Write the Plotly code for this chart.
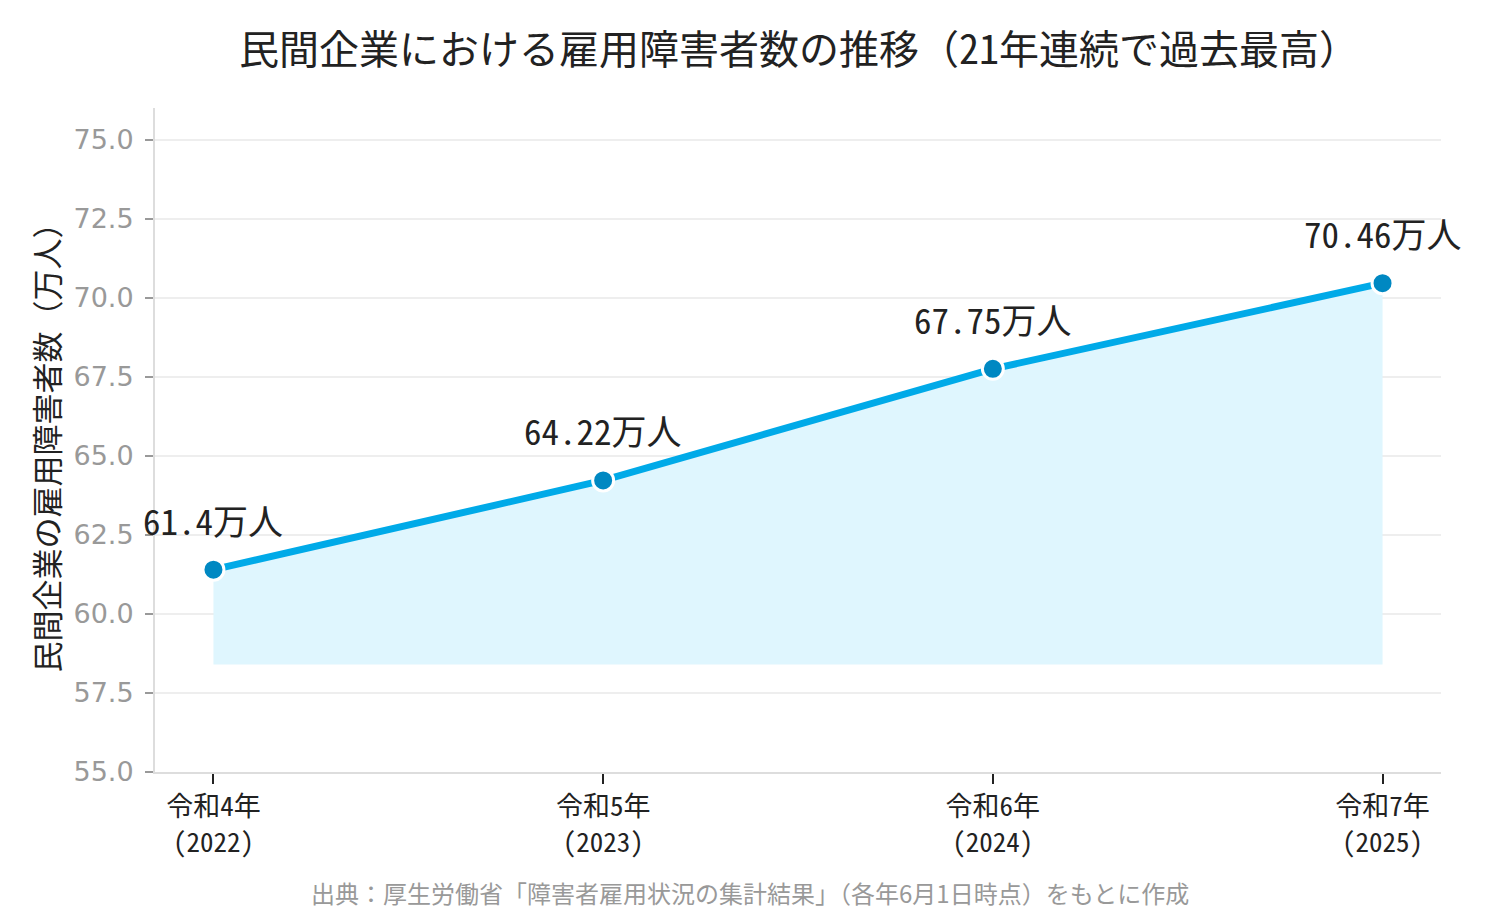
import plotly.graph_objects as go

# 民間企業の雇用障害者数（万人）
years = ['令和4年<br>(2022)', '令和5年<br>(2023)', '令和6年<br>(2024)', '令和7年<br>(2025)']
employees = [61.4, 64.22, 67.75, 70.46]
labels = ['61.4万人', '64.22万人', '67.75万人', '70.46万人']
fill_base = 58.4

MONO = "Noto Sans Mono CJK JP, Noto Sans CJK JP, sans-serif"


def main():
    fig = go.Figure()

    # invisible baseline so the area fill stops above the axis
    fig.add_trace(go.Scatter(
        x=years, y=[fill_base] * len(years),
        mode='lines', line=dict(width=0, color='rgba(0,0,0,0)'),
        hoverinfo='skip', showlegend=False,
    ))
    fig.add_trace(go.Scatter(
        x=years, y=employees,
        mode='lines+markers',
        fill='tonexty', fillcolor='#dff6fe',
        line=dict(color='#00aae8', width=7),
        marker=dict(size=21, color='#0088c2', line=dict(color='white', width=3)),
        showlegend=False,
    ))

    for x, y, t in zip(years, employees, labels):
        fig.add_annotation(
            x=x, y=y, text=t, showarrow=False,
            xanchor='center', yanchor='bottom', yshift=23,
            font=dict(family=MONO, size=35, color='#222222'),
        )

    fig.update_layout(
        width=1484, height=904,
        paper_bgcolor='white', plot_bgcolor='white',
        margin=dict(l=147, r=51, t=100, b=140),
        font=dict(family=MONO, color='#222222'),
        title=dict(
            text='民間企業における雇用障害者数の推移（21年連続で過去最高）',
            x=0.533, xanchor='center', y=0.953, yanchor='middle',
            font=dict(family=MONO, size=40, color='#222222'),
        ),
    )
    fig.update_xaxes(
        type='category', range=[-0.15, 3.15],
        showgrid=False, showline=True, linecolor='#dddddd', linewidth=2,
        ticks='outside', ticklen=10, tickwidth=2, tickcolor='#222222',
        tickfont=dict(family=MONO, size=27, color='#222222'),
    )
    fig.update_yaxes(
        range=[55, 76], tick0=55, dtick=2.5, tickformat='.1f',
        showgrid=True, gridcolor='#eeeeee', gridwidth=2,
        zeroline=False, showline=True, linecolor='#dddddd', linewidth=2,
        ticks='outside', ticklen=8, tickwidth=2, tickcolor='#999999',
        ticklabelstandoff=6,
        tickfont=dict(family='DejaVu Sans', size=27, color='#999999'),
        title=dict(text='民間企業の雇用障害者数（万人）',
                   font=dict(family=MONO, size=31, color='#222222'), standoff=5),
    )
    fig.add_annotation(
        text='出典：厚生労働省「障害者雇用状況の集計結果」（各年6月1日時点）をもとに作成',
        xref='paper', yref='paper', x=0.463, y=-0.182, xanchor='center', yanchor='middle',
        showarrow=False, font=dict(family='Noto Sans CJK JP', size=24, color='#999999'),
    )

    fig.write_html("out.html")


if __name__ == '__main__':
    main()
